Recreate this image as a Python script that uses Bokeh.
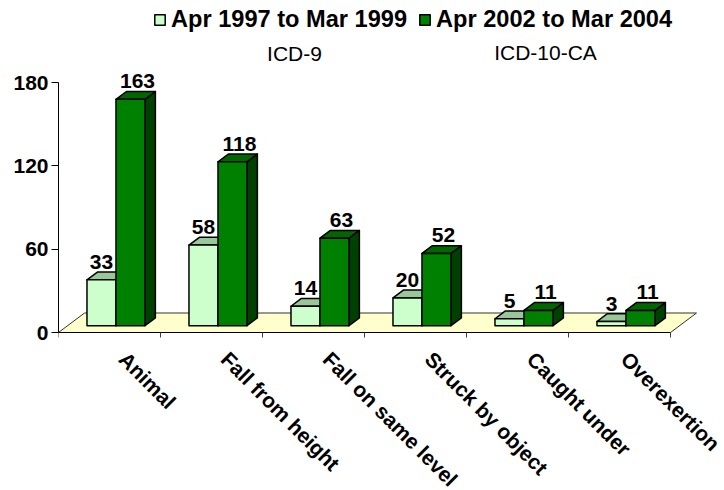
import math
from bokeh.plotting import figure
from bokeh.models import Range1d, FixedTicker, LinearAxis, Legend, LegendItem
from bokeh.core.properties import value
from bokeh.embed import file_html
from bokeh.resources import INLINE

# ---------------- data ----------------
categories = ["Animal", "Fall from height", "Fall on same level",
              "Struck by object", "Caught under", "Overexertion"]
series_names = ["Apr 1997 to Mar 1999", "Apr 2002 to Mar 2004"]
values_1997 = [33, 58, 14, 20, 5, 3]
values_2002 = [163, 118, 63, 52, 11, 11]
y_ticks = [0, 60, 120, 180]
coding_notes = ["ICD-9", "ICD-10-CA"]

# ---------------- styling / geometry ----------------
FONT = "Liberation Sans"
W, H = 724, 490
LEFT = 58
PX_X = 102.0            # px per category
PX_Y = 250.0 / 180.0    # px per unit value
ZERO_Y = 332            # px of value 0 from top
x_end = (W - LEFT) / PX_X
y_end = ZERO_Y / PX_Y
y_start = -(H - ZERO_Y) / PX_Y

depth_x = 26 / PX_X
depth_y = 19.5 / PX_Y
front_f, back_f = 0.35, 0.75
fx, fy = front_f * depth_x, front_f * depth_y
bx, by = back_f * depth_x, back_f * depth_y
bar_w = 29 / PX_X
bar_start = 0.19

light = dict(front="#CCFFCC", top="#99C799", side="#669966")
dark = dict(front="#008000", top="#006600", side="#004000")

p = figure(width=W, height=H, output_backend="svg", toolbar_location=None,
           x_range=Range1d(0, x_end), y_range=Range1d(y_start, y_end),
           x_axis_location=None, min_border_left=LEFT, min_border_right=0,
           min_border_top=0, min_border_bottom=0)
p.outline_line_color = None
p.grid.visible = False
p.background_fill_color = "white"

# floor
n = len(categories)
p.patch([0, n, n + depth_x, depth_x], [0, 0, depth_y, depth_y],
        fill_color="#FFFFCC", line_color="#333333", line_width=1)


def faces(vals, s):
    fr, tp, sd = ([], []), ([], []), ([], [])
    for i, v in enumerate(vals):
        x0 = i + bar_start + s * bar_w
        x1 = x0 + bar_w
        fr[0].append([x0 + fx, x1 + fx, x1 + fx, x0 + fx])
        fr[1].append([fy, fy, v + fy, v + fy])
        tp[0].append([x0 + fx, x1 + fx, x1 + bx, x0 + bx])
        tp[1].append([v + fy, v + fy, v + by, v + by])
        sd[0].append([x1 + fx, x1 + bx, x1 + bx, x1 + fx])
        sd[1].append([fy, by, v + by, v + fy])
    return fr, tp, sd


f1, t1, s1 = faces(values_1997, 0)
f2, t2, s2 = faces(values_2002, 1)
kw = dict(line_color="black", line_width=1.5, line_join="round")
p.patches(s1[0], s1[1], fill_color=light["side"], **kw)
p.patches(s2[0], s2[1], fill_color=dark["side"], **kw)
p.patches(t1[0], t1[1], fill_color=light["top"], **kw)
p.patches(t2[0], t2[1], fill_color=dark["top"], **kw)
r_light = p.patches(f1[0], f1[1], fill_color=light["front"], **kw)
r_dark = p.patches(f2[0], f2[1], fill_color=dark["front"], **kw)

# value labels
gap = 18 / PX_Y
lab_x, lab_y, lab_t = [], [], []
for s, vals in enumerate([values_1997, values_2002]):
    off = 0 if s == 0 else 7 / PX_X
    for i, v in enumerate(vals):
        lab_x.append(i + bar_start + s * bar_w + bar_w / 2 + fx + off)
        lab_y.append(v + fy + gap)
        lab_t.append(str(v))
p.text(lab_x, lab_y, text=lab_t, text_align="center", text_baseline="alphabetic",
       text_font=value(FONT), text_font_style="bold", text_font_size="21px",
       text_color="black")

# coding notes
p.text([(294 - LEFT) / PX_X, (545 - LEFT) / PX_X],
       [(ZERO_Y - 53) / PX_Y, (ZERO_Y - 52) / PX_Y],
       text=coding_notes, text_align="center", text_baseline="middle",
       text_font=value(FONT), text_font_size="21px", text_color="black")

# y axis
ya = p.yaxis[0]
ya.ticker = FixedTicker(ticks=y_ticks)
ya.bounds = (0, 180)
ya.major_tick_out = 7
ya.major_tick_in = 0
ya.minor_tick_out = 0
ya.minor_tick_in = 0
ya.major_label_standoff = 3
ya.axis_line_color = "black"
ya.major_tick_line_color = "black"
ya.major_label_text_font = FONT
ya.major_label_text_font_style = "bold"
ya.major_label_text_font_size = "21px"
ya.major_label_text_color = "black"

# x axis at value 0
shift = 0.13
label_ticks = [i + 0.5 + shift for i in range(n)]
xa = LinearAxis(fixed_location=0,
                ticker=FixedTicker(ticks=label_ticks, minor_ticks=list(range(n + 1))),
                bounds=(0, n))
xa.major_label_overrides = {t: c for t, c in zip(label_ticks, categories)}
xa.major_label_orientation = -math.pi / 4
xa.major_tick_out = 0
xa.major_tick_in = 0
xa.minor_tick_out = 5
xa.minor_tick_in = 0
xa.minor_tick_line_color = "#404040"
xa.axis_line_color = "black"
xa.major_label_standoff = 18
xa.major_label_text_font = FONT
xa.major_label_text_font_style = "bold"
xa.major_label_text_font_size = "21px"
xa.major_label_text_color = "black"
p.add_layout(xa, "below")

legend = Legend(items=[LegendItem(label=series_names[0], renderers=[r_light]),
                       LegendItem(label=series_names[1], renderers=[r_dark])],
                orientation="horizontal", location=(95, H - 33),
                glyph_width=13, glyph_height=13, label_standoff=5, spacing=11,
                padding=0, margin=0, border_line_alpha=0, background_fill_alpha=0,
                label_text_font=FONT, label_text_font_size="23.6px",
                label_text_font_style="bold", label_text_color="black")
p.add_layout(legend, "center")

open("out.html", "w").write(file_html(p, INLINE))
